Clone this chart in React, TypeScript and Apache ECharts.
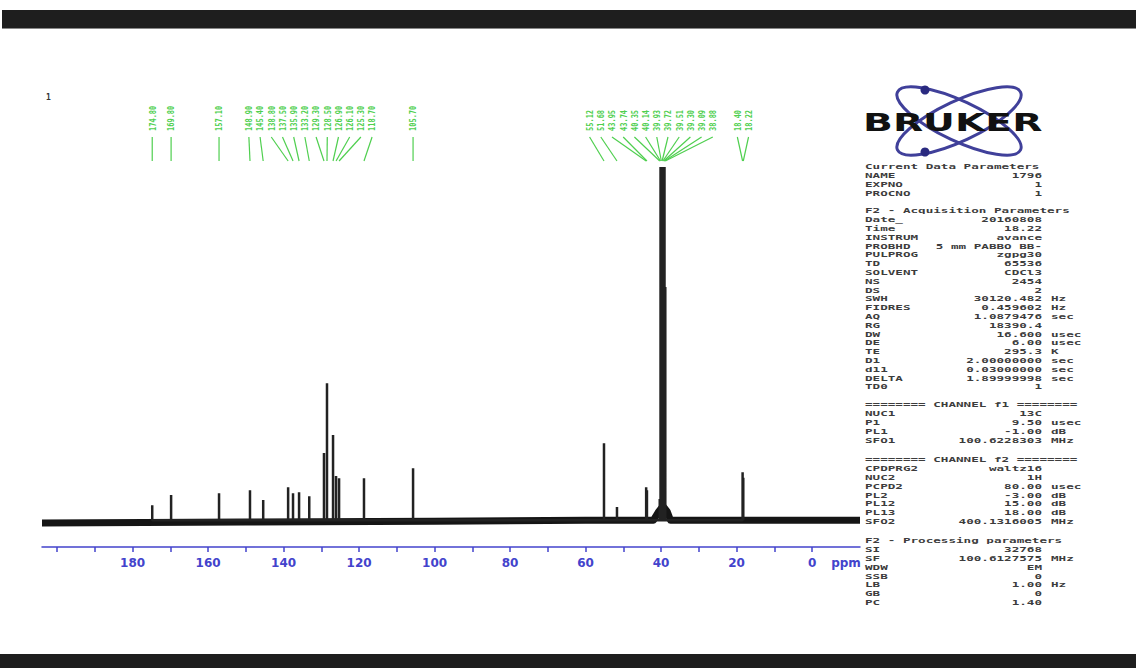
import React, { useEffect, useRef } from "react";
import * as echarts from "echarts";

// ---- spectrum data ----
const peakPpm = [174.8, 169.8, 157.1, 148.9, 145.4, 138.8, 137.5, 135.9, 133.2, 129.3, 128.5, 126.9, 126.1, 125.3, 118.7, 105.7, 55.12, 51.68, 43.95, 43.74, 40.35, 40.14, 39.93, 39.72, 39.51, 39.3, 39.09, 38.88, 18.4, 18.22];
const peakHeight = [4.2, 7.1, 7.6, 8.5, 5.7, 9.3, 7.6, 7.9, 6.8, 19.0, 38.8, 24.1, 12.5, 11.9, 11.9, 14.7, 21.8, 3.7, 9.3, 8.5, 6.0, 100, 100, 100, 100, 100, 100, 66, 13.6, 12.0];
const baselinePpm = [204, 150, 100, 60, 42.0, 40.6, 39.5, 38.4, 37.5, 0, -12.7];
const baselineLevel = [-0.8, -0.5, -0.3, 0, 0, 2.5, 4, 2.5, 0, 0, 0];

const tickPpm = [200, 190, 180, 170, 160, 150, 140, 130, 120, 110, 100, 90, 80, 70, 60, 50, 40, 30, 20, 10, 0];
const labelPpm = [180, 160, 140, 120, 100, 80, 60, 40, 20, 0, -9];
const unitLabelAt = -9;

const titleText = "1";
const logoText = "BRUKER";

// ---- parameter tables ----
const currentParams = [
  ["Current Data Parameters", "", ""],
  ["NAME", "1796", ""],
  ["EXPNO", "1", ""],
  ["PROCNO", "1", ""],
];
const acqParams = [
  ["F2 - Acquisition Parameters", "", ""],
  ["Date_", "20160808", ""],
  ["Time", "18.22", ""],
  ["INSTRUM", "avance", ""],
  ["PROBHD", "5 mm PABBO BB-", ""],
  ["PULPROG", "zgpg30", ""],
  ["TD", "65536", ""],
  ["SOLVENT", "CDCl3", ""],
  ["NS", "2454", ""],
  ["DS", "2", ""],
  ["SWH", "30120.482", "Hz"],
  ["FIDRES", "0.459602", "Hz"],
  ["AQ", "1.0879476", "sec"],
  ["RG", "18390.4", ""],
  ["DW", "16.600", "usec"],
  ["DE", "6.00", "usec"],
  ["TE", "295.3", "K"],
  ["D1", "2.00000000", "sec"],
  ["d11", "0.03000000", "sec"],
  ["DELTA", "1.89999998", "sec"],
  ["TD0", "1", ""],
];
const f1Params = [
  ["======== CHANNEL f1 ========", "", ""],
  ["NUC1", "13C", ""],
  ["P1", "9.50", "usec"],
  ["PL1", "-1.00", "dB"],
  ["SFO1", "100.6228303", "MHz"],
];
const f2Params = [
  ["======== CHANNEL f2 ========", "", ""],
  ["CPDPRG2", "waltz16", ""],
  ["NUC2", "1H", ""],
  ["PCPD2", "80.00", "usec"],
  ["PL2", "-3.00", "dB"],
  ["PL12", "15.00", "dB"],
  ["PL13", "18.00", "dB"],
  ["SFO2", "400.1316005", "MHz"],
];
const procParams = [
  ["F2 - Processing parameters", "", ""],
  ["SI", "32768", ""],
  ["SF", "100.6127575", "MHz"],
  ["WDW", "EM", ""],
  ["SSB", "0", ""],
  ["LB", "1.00", "Hz"],
  ["GB", "0", ""],
  ["PC", "1.40", ""],
];

// ---- styles ----
const GREEN = "#4fcf4f";
const AXIS_BLUE = "#4343cc";
const MONO = "DejaVu Sans Mono";
const LABEL_GAP = 11.2;

function layoutLabels(xs: number[], s: number): number[] {
  let groups = xs.map((x, i) => ({ idx: [i], left: x }));
  let changed = true;
  while (changed) {
    changed = false;
    for (let i = 0; i < groups.length - 1; i++) {
      const a = groups[i];
      const b = groups[i + 1];
      if (a.left + a.idx.length * s > b.left) {
        const idx = a.idx.concat(b.idx);
        const mean = idx.reduce((t, k) => t + xs[k], 0) / idx.length;
        groups.splice(i, 2, { idx, left: mean - ((idx.length - 1) * s) / 2 });
        changed = true;
        break;
      }
    }
  }
  const out: number[] = new Array(xs.length);
  groups.forEach((g) => g.idx.forEach((k, j) => (out[k] = g.left + j * s)));
  return out;
}

function tableElements(): any[] {
  const blocks: [string[][], number][] = [
    [currentParams, 167],
    [acqParams, 211],
    [f1Params, 405],
    [f2Params, 460],
    [procParams, 541],
  ];
  const sx = 1.8;
  const els: any[] = [];
  blocks.forEach(([rows, top]) => {
    rows.forEach((r, i) => {
      const y = top + i * 8.8;
      const base = {
        fontFamily: MONO,
        fontSize: 7,
        fontWeight: "bold",
        fill: "#3c3c3c",
        verticalAlign: "middle",
        textVerticalAlign: "middle",
      };
      els.push({ type: "text", x: 865, y, scaleX: sx, silent: true, style: { ...base, text: r[0], align: "left", textAlign: "left" } });
      if (r[1]) els.push({ type: "text", x: 1042, y, scaleX: sx, silent: true, style: { ...base, text: r[1], align: "right", textAlign: "right" } });
      if (r[2]) els.push({ type: "text", x: 1051, y, scaleX: sx, silent: true, style: { ...base, text: r[2], align: "left", textAlign: "left" } });
    });
  });
  return els;
}

function logoElements(): any[] {
  const orbit = { fill: "none", stroke: "#40409a", lineWidth: 3 };
  return [
    { type: "group", x: 959, y: 121, rotation: 0.44, silent: true, children: [{ type: "ellipse", shape: { cx: 0, cy: 0, rx: 68, ry: 20 }, style: orbit }] },
    { type: "group", x: 959, y: 121, rotation: -0.44, silent: true, children: [{ type: "ellipse", shape: { cx: 0, cy: 0, rx: 68, ry: 20 }, style: orbit }] },
    { type: "circle", shape: { cx: 925, cy: 90, r: 4.5 }, style: { fill: "#2a2a80" }, silent: true },
    { type: "circle", shape: { cx: 925, cy: 152, r: 4.5 }, style: { fill: "#2a2a80" }, silent: true },
    {
      type: "text",
      x: 863,
      y: 122,
      scaleX: 1.57,
      silent: true,
      style: { text: logoText, fontFamily: "DejaVu Sans", fontWeight: "bold", fontSize: 25, fill: "#111", align: "left", textAlign: "left", verticalAlign: "middle", textVerticalAlign: "middle" },
    },
  ];
}

export default function App() {
  const ref = useRef<HTMLDivElement>(null);
  useEffect(() => {
    if (!ref.current) return;
    const chart = echarts.init(ref.current, null, { renderer: "svg" });

    const peakLine: [number, number][] = [];
    peakPpm.forEach((p, i) => {
      peakLine.push([p, 0], [p, peakHeight[i]], [p, 0]);
    });
    const baseLine = baselinePpm.map((p, i) => [p, baselineLevel[i]]);

    const option: any = {
      animation: false,
      backgroundColor: "#ffffff",
      title: {
        text: titleText,
        left: 41,
        top: 88,
        textStyle: { fontSize: 8, fontWeight: "bold", color: "#333", fontFamily: MONO },
      },
      grid: { left: 42, right: 276, top: 160, bottom: 121, outerBoundsMode: "none" },
      xAxis: {
        type: "value",
        min: -12.7,
        max: 204,
        inverse: true,
        axisLine: { onZero: false, lineStyle: { color: AXIS_BLUE, width: 1.5 } },
        axisTick: { customValues: tickPpm, length: 5, lineStyle: { color: AXIS_BLUE, width: 1.5 } },
        axisLabel: {
          customValues: labelPpm,
          color: AXIS_BLUE,
          fontFamily: "DejaVu Sans",
          fontWeight: "bold",
          fontSize: 12,
          margin: 10,
          formatter: (v: number) => (v === unitLabelAt ? "ppm" : String(v)),
        },
        splitLine: { show: false },
      },
      yAxis: { type: "value", min: -7.6, max: 102, show: false, splitLine: { show: false } },
      graphic: [
        { type: "rect", shape: { x: 2, y: 10, width: 1134, height: 18 }, style: { fill: "#1e1e1e" }, silent: true },
        { type: "line", shape: { x1: 2, y1: 28.5, x2: 1136, y2: 28.5 }, style: { stroke: "#888", lineWidth: 1 }, silent: true },
        { type: "rect", shape: { x: 0, y: 654, width: 1136, height: 14 }, style: { fill: "#1e1e1e" }, silent: true },
        ...logoElements(),
        ...tableElements(),
      ],
      series: [
        {
          type: "line",
          data: baseLine,
          symbol: "none",
          lineStyle: { color: "#151515", width: 7, join: "round" },
          z: 2,
          silent: true,
        },
        {
          type: "line",
          data: peakLine,
          symbol: "none",
          lineStyle: { color: "#222", width: 2.5, join: "bevel" },
          z: 3,
          silent: true,
        },
        {
          type: "custom",
          data: peakPpm.map((p, i) => [p, peakHeight[i]]),
          encode: { x: 0, y: 1 },
          clip: false,
          silent: true,
          z: 5,
          renderItem: (params: any, api: any) => {
            const xs = peakPpm.map((p) => api.coord([p, 0])[0]);
            const lx = layoutLabels(xs, LABEL_GAP);
            const i = params.dataIndex;
            const top = params.coordSys.y;
            return {
              type: "group",
              children: [
                { type: "line", shape: { x1: lx[i], y1: top - 23, x2: xs[i], y2: top + 1 }, style: { stroke: GREEN, lineWidth: 1.2 } },
                {
                  type: "group",
                  x: lx[i],
                  y: top - 29,
                  scaleX: 1.3,
                  children: [
                    {
                      type: "text",
                      rotation: Math.PI / 2,
                      style: {
                        text: peakPpm[i].toFixed(2),
                        fontFamily: MONO,
                        fontSize: 7,
                        fontWeight: "bold",
                        fill: GREEN,
                        align: "left",
                        textAlign: "left",
                        verticalAlign: "middle",
                        textVerticalAlign: "middle",
                      },
                    },
                  ],
                },
              ],
            };
          },
        },
      ],
    };
    chart.setOption(option);
    return () => chart.dispose();
  }, []);
  return (
    <div
      ref={ref}
      style={{ position: "fixed", left: 0, top: 0, width: 1136, height: 668, background: "#fff" }}
    />
  );
}
